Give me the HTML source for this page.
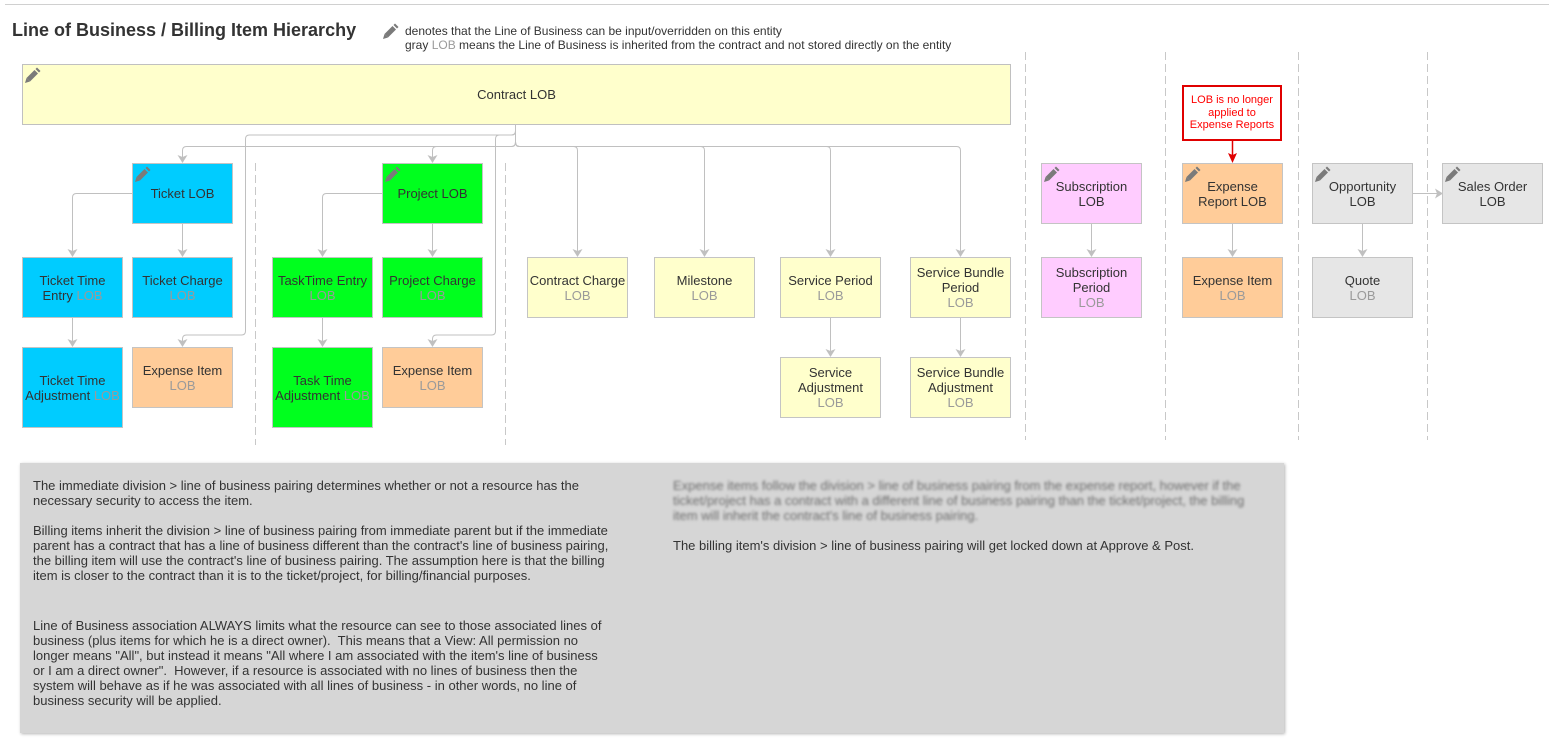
<!DOCTYPE html>
<html><head><meta charset="utf-8">
<style>
*{margin:0;padding:0}
html,body{width:1549px;height:739px;background:#fff;overflow:hidden;position:relative;font-family:"Liberation Sans",Arial,sans-serif;color:#333}
.b{position:absolute;box-sizing:border-box;width:101px;height:61px;border:1px solid #c4c4c4;display:flex;align-items:center;justify-content:center;text-align:center;font-size:13px;line-height:15px;color:#333}
.b>div{text-align:center;white-space:nowrap}
.g{color:#9a9a9a}
.bl{background:#00ccff}
.gr{background:#00ff1e}
.or{background:#ffcc99}
.ye{background:#ffffcc}
.pk{background:#ffccff}
.gy{background:#e6e6e6}
.pen{position:absolute;width:16px;height:16px}
.t{position:absolute;white-space:nowrap;font-size:13px;line-height:15px;color:#333}
</style></head><body>
<div style="position:absolute;left:5px;top:4px;width:1544px;height:1px;background:#d0d0d0"></div>
<div style="position:absolute;left:12px;top:20px;font-weight:bold;font-size:18px;line-height:20px;color:#333;white-space:nowrap">Line of Business / Billing Item Hierarchy</div>
<svg class="pen" style="left:383px;top:23px" viewBox="0 0 16 16"><g fill="#7a7a7a"><polygon points="12,0.5 15.5,4 14,5.5 10.5,2"/><polygon points="9.5,3 13,6.5 5,14.5 1.5,11"/><polygon points="1.5,11 5,14.5 0,16"/></g></svg>
<div style="position:absolute;left:405px;top:24px;font-size:12px;line-height:14px;color:#333;white-space:nowrap">denotes that the Line of Business can be input/overridden on this entity<br>gray <span class="g">LOB</span> means the Line of Business is inherited from the contract and not stored directly on the entity</div>

<svg style="position:absolute;left:0;top:0" width="1549" height="739">
<g stroke="#c8c8c8" stroke-width="1" stroke-dasharray="8,4" fill="none">
<line x1="255.5" y1="163" x2="255.5" y2="445"/>
<line x1="505.5" y1="163" x2="505.5" y2="445"/>
<line x1="1025.5" y1="52" x2="1025.5" y2="440"/>
<line x1="1165.5" y1="52" x2="1165.5" y2="440"/>
<line x1="1298.5" y1="52" x2="1298.5" y2="440"/>
<line x1="1427.5" y1="52" x2="1427.5" y2="440"/>
</g>
<g stroke="#c0c0c0" stroke-width="1" fill="none">
<path d="M515.5 124 V131 Q515.5 135 511.5 135 H249.5 Q245.5 135 245.5 139 V331 Q245.5 335 241.5 335 H186.5 Q182.5 335 182.5 339 V341"/>
<path d="M515.5 124 V131 Q515.5 135 511.5 135 H499.5 Q495.5 135 495.5 139 V331 Q495.5 335 491.5 335 H436.5 Q432.5 335 432.5 339 V341"/>
<path d="M515.5 124 V142 Q515.5 146.5 511.5 146.5 H186.5 Q182.5 146.5 182.5 150.5 V157"/>
<path d="M515.5 124 V142 Q515.5 146.5 511.5 146.5 H436.5 Q432.5 146.5 432.5 150.5 V157"/>
<path d="M515.5 124 V142 Q515.5 146.5 519.5 146.5 H573.5 Q577.5 146.5 577.5 150.5 V251"/>
<path d="M515.5 124 V142 Q515.5 146.5 519.5 146.5 H700.5 Q704.5 146.5 704.5 150.5 V251"/>
<path d="M515.5 124 V142 Q515.5 146.5 519.5 146.5 H826.5 Q830.5 146.5 830.5 150.5 V251"/>
<path d="M515.5 124 V142 Q515.5 146.5 519.5 146.5 H956.5 Q960.5 146.5 960.5 150.5 V251"/>
<path d="M132 193.5 H76.5 Q72.5 193.5 72.5 197.5 V251"/>
<path d="M182.5 223 V251"/>
<path d="M72.5 317 V341"/>
<path d="M382 193.5 H326.5 Q322.5 193.5 322.5 197.5 V251"/>
<path d="M432.5 223 V251"/>
<path d="M322.5 317 V341"/>
<path d="M830.5 317 V351"/>
<path d="M960.5 317 V351"/>
<path d="M1091.5 223 V251"/>
<path d="M1232.5 223 V251"/>
<path d="M1362.5 223 V251"/>
<path d="M1413 193.5 H1437"/>
</g>
<g fill="#c0c0c0">
<polygon points="177.5,155 182.5,163 187.5,155 182.5,157"/>
<polygon points="427.5,155 432.5,163 437.5,155 432.5,157"/>
<polygon points="572.5,249 577.5,257 582.5,249 577.5,251"/>
<polygon points="699.5,249 704.5,257 709.5,249 704.5,251"/>
<polygon points="825.5,249 830.5,257 835.5,249 830.5,251"/>
<polygon points="955.5,249 960.5,257 965.5,249 960.5,251"/>
<polygon points="67.5,249 72.5,257 77.5,249 72.5,251"/>
<polygon points="177.5,249 182.5,257 187.5,249 182.5,251"/>
<polygon points="67.5,339 72.5,347 77.5,339 72.5,341"/>
<polygon points="177.5,339 182.5,347 187.5,339 182.5,341"/>
<polygon points="317.5,249 322.5,257 327.5,249 322.5,251"/>
<polygon points="427.5,249 432.5,257 437.5,249 432.5,251"/>
<polygon points="317.5,339 322.5,347 327.5,339 322.5,341"/>
<polygon points="427.5,339 432.5,347 437.5,339 432.5,341"/>
<polygon points="825.5,349 830.5,357 835.5,349 830.5,351"/>
<polygon points="955.5,349 960.5,357 965.5,349 960.5,351"/>
<polygon points="1086.5,249 1091.5,257 1096.5,249 1091.5,251"/>
<polygon points="1227.5,249 1232.5,257 1237.5,249 1232.5,251"/>
<polygon points="1357.5,249 1362.5,257 1367.5,249 1362.5,251"/>
<polygon points="1435,188.5 1443,193.5 1435,198.5 1437,193.5"/>
</g>
<path d="M1232.5 141 V155" stroke="#e00000" stroke-width="1.5" fill="none"/>
<polygon points="1228,153 1232.5,163 1237,153 1232.5,155" fill="#e00000"/>
</svg>

<!-- Contract -->
<div class="b ye" style="left:22px;top:64px;width:989px;height:61px;border-color:#c0c0c0"><div>Contract LOB</div></div>
<svg class="pen" style="left:25px;top:67px" viewBox="0 0 16 16"><g fill="#7a7a7a"><polygon points="12,0.5 15.5,4 14,5.5 10.5,2"/><polygon points="9.5,3 13,6.5 5,14.5 1.5,11"/><polygon points="1.5,11 5,14.5 0,16"/></g></svg>

<!-- Ticket -->
<div class="b bl" style="left:132px;top:163px"><div>Ticket LOB</div></div>
<svg class="pen" style="left:135px;top:166px" viewBox="0 0 16 16"><g fill="#7a7a7a"><polygon points="12,0.5 15.5,4 14,5.5 10.5,2"/><polygon points="9.5,3 13,6.5 5,14.5 1.5,11"/><polygon points="1.5,11 5,14.5 0,16"/></g></svg>
<div class="b bl" style="left:22px;top:257px"><div>Ticket Time<br>Entry <span class="g">LOB</span></div></div>
<div class="b bl" style="left:132px;top:257px"><div>Ticket Charge<br><span class="g">LOB</span></div></div>
<div class="b bl" style="left:22px;top:347px;height:81px"><div>Ticket Time<br>Adjustment <span class="g">LOB</span></div></div>
<div class="b or" style="left:132px;top:347px"><div>Expense Item<br><span class="g">LOB</span></div></div>

<!-- Project -->
<div class="b gr" style="left:382px;top:163px"><div>Project LOB</div></div>
<svg class="pen" style="left:385px;top:166px" viewBox="0 0 16 16"><g fill="#7a7a7a"><polygon points="12,0.5 15.5,4 14,5.5 10.5,2"/><polygon points="9.5,3 13,6.5 5,14.5 1.5,11"/><polygon points="1.5,11 5,14.5 0,16"/></g></svg>
<div class="b gr" style="left:272px;top:257px"><div>TaskTime Entry<br><span class="g">LOB</span></div></div>
<div class="b gr" style="left:382px;top:257px"><div>Project Charge<br><span class="g">LOB</span></div></div>
<div class="b gr" style="left:272px;top:347px;height:81px"><div>Task Time<br>Adjustment <span class="g">LOB</span></div></div>
<div class="b or" style="left:382px;top:347px"><div>Expense Item<br><span class="g">LOB</span></div></div>

<!-- Contract children -->
<div class="b ye" style="left:527px;top:257px"><div>Contract Charge<br><span class="g">LOB</span></div></div>
<div class="b ye" style="left:654px;top:257px"><div>Milestone<br><span class="g">LOB</span></div></div>
<div class="b ye" style="left:780px;top:257px"><div>Service Period<br><span class="g">LOB</span></div></div>
<div class="b ye" style="left:910px;top:257px"><div>Service Bundle<br>Period<br><span class="g">LOB</span></div></div>
<div class="b ye" style="left:780px;top:357px"><div>Service<br>Adjustment<br><span class="g">LOB</span></div></div>
<div class="b ye" style="left:910px;top:357px"><div>Service Bundle<br>Adjustment<br><span class="g">LOB</span></div></div>

<!-- Subscription -->
<div class="b pk" style="left:1041px;top:163px"><div>Subscription<br>LOB</div></div>
<svg class="pen" style="left:1044px;top:166px" viewBox="0 0 16 16"><g fill="#7a7a7a"><polygon points="12,0.5 15.5,4 14,5.5 10.5,2"/><polygon points="9.5,3 13,6.5 5,14.5 1.5,11"/><polygon points="1.5,11 5,14.5 0,16"/></g></svg>
<div class="b pk" style="left:1041px;top:257px"><div>Subscription<br>Period<br><span class="g">LOB</span></div></div>

<!-- Expense report -->
<div style="position:absolute;left:1182px;top:85px;width:100px;height:56px;box-sizing:border-box;border:2px solid #e00000;background:#fff;color:#ff0000;font-size:11px;line-height:12.5px;text-align:center;display:flex;align-items:center;justify-content:center"><div>LOB is no longer<br>applied to<br>Expense Reports</div></div>
<div class="b or" style="left:1182px;top:163px"><div>Expense<br>Report LOB</div></div>
<svg class="pen" style="left:1185px;top:166px" viewBox="0 0 16 16"><g fill="#7a7a7a"><polygon points="12,0.5 15.5,4 14,5.5 10.5,2"/><polygon points="9.5,3 13,6.5 5,14.5 1.5,11"/><polygon points="1.5,11 5,14.5 0,16"/></g></svg>
<div class="b or" style="left:1182px;top:257px"><div>Expense Item<br><span class="g">LOB</span></div></div>

<!-- Opportunity -->
<div class="b gy" style="left:1312px;top:163px"><div>Opportunity<br>LOB</div></div>
<svg class="pen" style="left:1315px;top:166px" viewBox="0 0 16 16"><g fill="#7a7a7a"><polygon points="12,0.5 15.5,4 14,5.5 10.5,2"/><polygon points="9.5,3 13,6.5 5,14.5 1.5,11"/><polygon points="1.5,11 5,14.5 0,16"/></g></svg>
<div class="b gy" style="left:1312px;top:257px"><div>Quote<br><span class="g">LOB</span></div></div>
<div class="b gy" style="left:1442px;top:163px"><div>Sales Order<br>LOB</div></div>
<svg class="pen" style="left:1445px;top:166px" viewBox="0 0 16 16"><g fill="#7a7a7a"><polygon points="12,0.5 15.5,4 14,5.5 10.5,2"/><polygon points="9.5,3 13,6.5 5,14.5 1.5,11"/><polygon points="1.5,11 5,14.5 0,16"/></g></svg>

<!-- Notes box -->
<div style="position:absolute;left:20px;top:463px;width:1264px;height:270px;background:#d6d6d6;box-shadow:1px 1px 3px rgba(0,0,0,0.3)"></div>
<div class="t" style="left:33px;top:478px">The immediate division &gt; line of business pairing determines whether or not a resource has the<br>necessary security to access the item.</div>
<div class="t" style="left:33px;top:523px">Billing items inherit the division &gt; line of business pairing from immediate parent but if the immediate<br>parent has a contract that has a line of business different than the contract's line of business pairing,<br>the billing item will use the contract's line of business pairing. The assumption here is that the billing<br>item is closer to the contract than it is to the ticket/project, for billing/financial purposes.</div>
<div class="t" style="left:33px;top:618px">Line of Business association ALWAYS limits what the resource can see to those associated lines of<br>business (plus items for which he is a direct owner).&nbsp; This means that a View: All permission no<br>longer means "All", but instead it means "All where I am associated with the item's line of business<br>or I am a direct owner".&nbsp; However, if a resource is associated with no lines of business then the<br>system will behave as if he was associated with all lines of business - in other words, no line of<br>business security will be applied.</div>
<div class="t" style="left:673px;top:478px;color:#6e6e6e;filter:blur(1.3px)">Expense items follow the division &gt; line of business pairing from the expense report, however if the<br>ticket/project has a contract with a different line of business pairing than the ticket/project, the billing<br>item will inherit the contract's line of business pairing.</div>
<div class="t" style="left:673px;top:538px">The billing item's division &gt; line of business pairing will get locked down at Approve &amp; Post.</div>
</body></html>
